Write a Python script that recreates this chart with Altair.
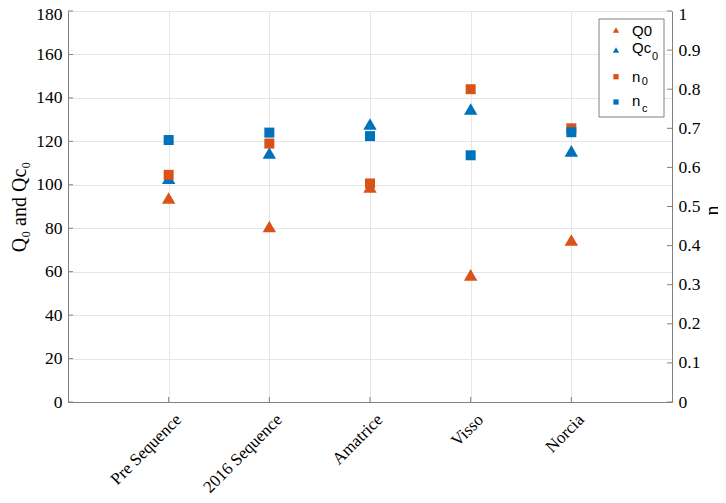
import altair as alt
import pandas as pd

sites = ["Pre Sequence", "2016 Sequence", "Amatrice", "Visso", "Norcia"]
q0 = [93.9, 80.8, 99.0, 58.5, 74.6]
qc0 = [103.0, 114.6, 128.0, 134.9, 115.6]
n0 = [0.581, 0.661, 0.559, 0.800, 0.700]
nc = [0.670, 0.689, 0.680, 0.631, 0.690]
left_ticks = [0, 20, 40, 60, 80, 100, 120, 140, 160, 180]
right_ticks = [0, 0.1, 0.2, 0.3, 0.4, 0.5, 0.6, 0.7, 0.8, 0.9, 1.0]

ORANGE = "#D95319"
BLUE = "#0072BD"
AXC = "#808080"
GRID = "#e6e6e6"
SERIF = "Liberation Serif"
SANS = "Liberation Sans"
W, H = 604, 391

df = pd.DataFrame({"site": sites, "Q0": q0, "Qc0": qc0, "n0": n0, "nc": nc})

xenc = alt.X(
    "site:N", sort=sites,
    scale=alt.Scale(type="point", padding=1),
    axis=alt.Axis(title=None, labelAngle=315, labelAlign="right", labelBaseline="top",
                  labelPadding=9, labelOffset=4, grid=True, gridColor=GRID,
                  ticks=False, domainColor=AXC, labelFont=SERIF, labelFontSize=17,
                  labelColor="#000000"),
)

lscale = alt.Scale(domain=[0, 180], nice=False, zero=True)
rscale = alt.Scale(domain=[0, 1], nice=False, zero=True)

laxis = alt.Axis(title="Q₀ and Qc₀", values=left_ticks, grid=True, gridColor=GRID,
                 ticks=False, domainColor=AXC, labelFont=SERIF, labelFontSize=17.5,
                 labelColor="#000000", labelPadding=6,
                 labelOffset={"condition": {"test": "datum.value == 180", "value": 3}, "value": 0},
                 titleFont=SERIF, titleFontSize=20,
                 titleFontWeight="normal", titleColor="#000000", titlePadding=6)
raxis = alt.Axis(title="n", orient="right", values=right_ticks, format="~g", grid=False,
                 ticks=False, domainColor=AXC, labelFont=SERIF, labelFontSize=17.5,
                 labelColor="#000000", labelPadding=6,
                 labelOffset={"condition": {"test": "datum.value == 1", "value": 3}, "value": 0},
                 titleFont=SERIF, titleFontSize=20,
                 titleFontWeight="normal", titleColor="#000000", titleAngle=270,
                 titleX=40, titleY=199, titleAlign="center", titleBaseline="middle")

base = alt.Chart(df)
tri_q0 = base.mark_point(shape="triangle-up", filled=True, size=180, opacity=1,
                         color=ORANGE).encode(x=xenc, y=alt.Y("Q0:Q", scale=lscale, axis=laxis))
tri_qc0 = base.mark_point(shape="triangle-up", filled=True, size=180, opacity=1,
                          color=BLUE).encode(x=xenc, y=alt.Y("Qc0:Q", scale=lscale, axis=laxis))
lt = alt.Chart(pd.DataFrame({"v": left_ticks})).mark_rule(color=AXC).encode(
    y=alt.Y("v:Q", scale=lscale, axis=laxis), x=alt.value(0), x2=alt.value(5))
left = alt.layer(lt, tri_q0, tri_qc0)

sq_n0 = base.mark_point(shape="square", filled=True, size=100, opacity=1,
                        color=ORANGE).encode(x=xenc, y=alt.Y("n0:Q", scale=rscale, axis=raxis))
sq_nc = base.mark_point(shape="square", filled=True, size=100, opacity=1,
                        color=BLUE).encode(x=xenc, y=alt.Y("nc:Q", scale=rscale, axis=raxis))
rt = alt.Chart(pd.DataFrame({"v": right_ticks})).mark_rule(color=AXC).encode(
    y=alt.Y("v:Q", scale=rscale, axis=raxis), x=alt.value(W - 5), x2=alt.value(W))
right = alt.layer(rt, sq_n0, sq_nc)

xt = alt.Chart(pd.DataFrame({"site": sites})).mark_rule(color=AXC).encode(
    x=xenc, y=alt.value(H - 5), y2=alt.value(H))

one = alt.Data(values=[{}])
leg_box = alt.Chart(one).mark_rect(fill="white", stroke=AXC, strokeWidth=1).encode(
    x=alt.value(531), x2=alt.value(596), y=alt.value(8), y2=alt.value(106))

def sym(shape, color, size, y):
    return alt.Chart(one).mark_point(shape=shape, filled=True, size=size, opacity=1,
                                     color=color).encode(x=alt.value(548), y=alt.value(y))

def txt(t, x, y, fs):
    return alt.Chart(one).mark_text(text=t, font=SANS, fontSize=fs, align="left",
                                    baseline="middle", color="#000000").encode(
        x=alt.value(x), y=alt.value(y))

legend = alt.layer(
    leg_box,
    sym("triangle-up", ORANGE, 40, 19),
    sym("triangle-up", BLUE, 40, 39),
    sym("square", ORANGE, 28, 65.7),
    sym("square", BLUE, 28, 91),
    txt("Q0", 564, 19.5, 15),
    txt("Qc", 564, 37, 15),
    txt("0", 584, 45.7, 11),
    txt("n", 564, 65.7, 15),
    txt("0", 573.7, 71.3, 11),
    txt("n", 564, 90, 15),
    txt("c", 574, 98, 11),
)

chart = alt.layer(xt, left, right, legend).resolve_scale(y="independent").properties(
    width=W, height=H,
    autosize=alt.AutoSizeParams(type="none"),
    padding={"left": 60, "top": 3, "right": 46, "bottom": 93},
).configure_view(stroke=AXC, strokeWidth=1).configure(background="white")

chart.save("out.html", embed_options={"renderer": "svg", "actions": False})
